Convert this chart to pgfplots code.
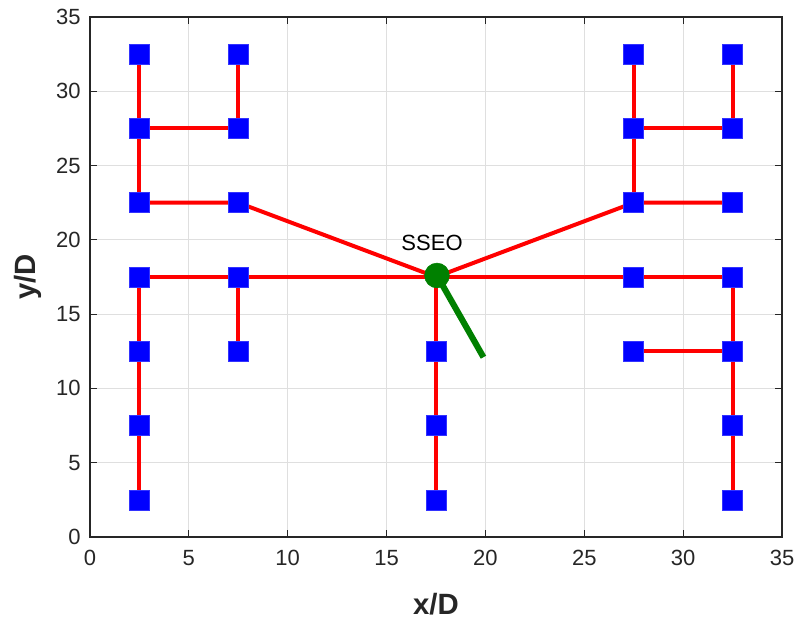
\documentclass[border=0pt]{standalone}
\usepackage{fontspec}
\setmainfont{Liberation Sans}
\usepackage{pgfplots}
\pgfplotsset{compat=1.18}
\usetikzlibrary{calc}
\definecolor{axgray}{RGB}{38,38,38}
\definecolor{mgreen}{RGB}{0,128,0}
\tikzset{seg/.style={red, solid, line width=3pt, mark=none}}
\begin{document}
\begin{tikzpicture}
\begin{axis}[
  scale only axis, width=519pt, height=390pt,
  xmin=0, xmax=35, ymin=0, ymax=35,
  xtick={0,5,...,35}, ytick={0,5,...,35},
  tick align=inside, major tick length=5pt,
  tick style={axgray, line width=0.9pt},
  axis line style={axgray, line width=1.1pt},
  grid=major, grid style={gray!25, line width=0.6pt},
  /pgf/number format/assume math mode=true,
  ticklabel style={font=\fontsize{16.5}{19}\selectfont, text=axgray},
  xticklabel style={yshift=-6.5pt},
  yticklabel style={xshift=-3.5pt},
  xlabel={x/D}, ylabel={y/D},
  label style={font=\fontsize{22}{26}\selectfont\bfseries, text=axgray},
  xlabel style={at={(axis description cs:0.5,-0.129)}, anchor=center},
  ylabel style={at={(axis description cs:-0.0896,0.5)}, anchor=center},
  clip=false,
]
\addplot[seg] coordinates {(2.5,32.5) (2.5,22.5)};
\addplot[seg] coordinates {(2.5,27.5) (7.5,27.5)};
\addplot[seg] coordinates {(7.5,32.5) (7.5,27.5)};
\addplot[seg] coordinates {(2.5,22.5) (7.5,22.5) (17.5,17.5) (27.5,22.5) (32.5,22.5)};
\addplot[seg] coordinates {(2.5,2.5) (2.5,17.5) (32.5,17.5) (32.5,2.5)};
\addplot[seg] coordinates {(7.5,17.5) (7.5,12.5)};
\addplot[seg] coordinates {(17.5,17.5) (17.5,2.5)};
\addplot[seg] coordinates {(27.5,32.5) (27.5,22.5)};
\addplot[seg] coordinates {(27.5,27.5) (32.5,27.5)};
\addplot[seg] coordinates {(32.5,32.5) (32.5,27.5)};
\addplot[seg] coordinates {(27.5,12.5) (32.5,12.5)};
\addplot[only marks, mark=square*, mark size=7.5pt, mark options={solid, draw=blue!80!white, fill=blue, line width=0.5pt}] coordinates {
 (2.5,32.5) (2.5,27.5) (2.5,22.5) (2.5,17.5) (2.5,12.5) (2.5,7.5) (2.5,2.5)
 (7.5,32.5) (7.5,27.5) (7.5,22.5) (7.5,17.5) (7.5,12.5)
 (17.5,12.5) (17.5,7.5) (17.5,2.5)
 (27.5,32.5) (27.5,27.5) (27.5,22.5) (27.5,17.5) (27.5,12.5)
 (32.5,32.5) (32.5,27.5) (32.5,22.5) (32.5,17.5) (32.5,12.5) (32.5,7.5) (32.5,2.5)
};
\addplot[mgreen, solid, line width=4.6pt, mark=none] coordinates {(17.55,17.6) (19.9,12.1)};
\addplot[only marks, mark=*, mark size=9.3pt, mark options={solid, fill=mgreen, draw=mgreen}] coordinates {(17.55,17.6)};
\node[font=\fontsize{16.5}{19}\selectfont, text=black] at (axis cs:17.3,19.8) {SSEO};
\end{axis}
\pgfresetboundingbox
\path ($(current axis.south west)+(-67.5pt,-61.5pt)$) rectangle ($(current axis.north east)+(10.5pt,12.75pt)$);
\end{tikzpicture}
\end{document}
